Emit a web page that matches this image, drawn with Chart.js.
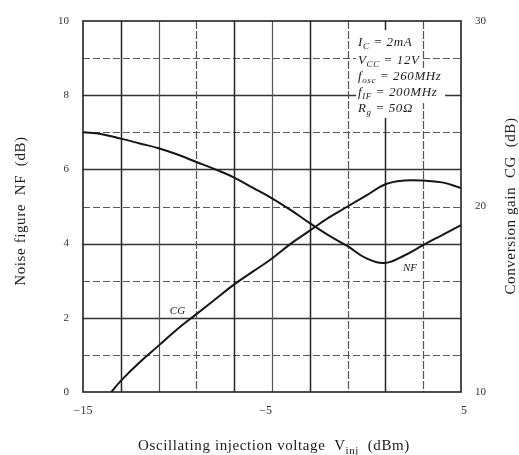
<!DOCTYPE html>
<html>
<head>
<meta charset="utf-8">
<script src="https://cdn.jsdelivr.net/npm/chart.js@4.4.1/dist/chart.umd.min.js"></script>
<style>
  html, body { margin: 0; padding: 0; background: #fff; }
  #wrap { width: 519px; height: 455px; position: relative; }
</style>
</head>
<body>
<div id="wrap"><canvas id="c"></canvas></div>
<script>
// Oscillating injection voltage (dBm) sample points
const injVoltage = [-15, -14, -13, -12, -11, -10, -9, -8, -7, -6, -5, -4, -3, -2, -1, 0, 1, 2, 3, 4, 5];
// Noise figure NF (dB)
const noiseFigure = [7.0, 6.95, 6.83, 6.7, 6.57, 6.4, 6.2, 6.0, 5.78, 5.5, 5.22, 4.9, 4.55, 4.22, 3.93, 3.6, 3.48, 3.68, 3.96, 4.23, 4.5];
// Conversion gain CG (dB), starting where it leaves the bottom of the grid
const cgVoltage = [-13.5, -13, -12, -11, -10, -9, -8, -7, -6, -5, -4, -3, -2, -1, 0, 1, 2, 3, 4, 5];
const conversionGain = [10, 10.6, 11.6, 12.5, 13.4, 14.2, 15.0, 15.8, 16.5, 17.2, 18.0, 18.7, 19.4, 20.0, 20.6, 21.2, 21.4, 21.4, 21.3, 21.0];

// Tick labels
const xTickLabels = { '-15': '\u221215', '-5': '\u22125', '5': '5' };
const nfTickLabels = [0, 2, 4, 6, 8, 10];
const cgTickLabels = [10, 20, 30];

// Operating conditions box
const conditions = [
  [{ t: 'I' }, { t: 'C', sub: true }, { t: ' = 2mA' }],
  [{ t: 'V' }, { t: 'CC', sub: true }, { t: ' = 12V' }],
  [{ t: 'f' }, { t: 'osc', sub: true }, { t: ' = 260MHz' }],
  [{ t: 'f' }, { t: 'IF', sub: true }, { t: ' = 200MHz' }],
  [{ t: 'R' }, { t: 'g', sub: true }, { t: ' = 50\u03A9' }]
];

const SERIF = '"Liberation Serif", "DejaVu Serif", serif';
const INK = '#1c1c1c';

function toPoints(xs, ys) { return xs.map((x, i) => ({ x: x, y: ys[i] })); }

function richWidth(ctx, parts, size, italic) {
  let w = 0;
  parts.forEach(p => {
    ctx.font = (italic ? 'italic ' : '') + (p.sub ? Math.round(size * 0.7) : size) + 'px ' + SERIF;
    w += ctx.measureText(p.t).width;
  });
  return w;
}
function drawRich(ctx, parts, x, y, size, italic) {
  let cx = x;
  parts.forEach(p => {
    const s = p.sub ? Math.round(size * 0.7) : size;
    ctx.font = (italic ? 'italic ' : '') + s + 'px ' + SERIF;
    ctx.fillText(p.t, cx, p.sub ? y + size * 0.25 : y);
    cx += ctx.measureText(p.t).width;
  });
}

// Grid of solid and dashed rulings, plus the frame
const paperGrid = {
  id: 'paperGrid',
  beforeDatasetsDraw(chart) {
    const { ctx, chartArea: a, scales } = chart;
    const xs = scales.x, ys = scales.y;
    ctx.save();
    // horizontal rulings
    for (let v = 1; v <= 9; v++) {
      const py = Math.round(ys.getPixelForValue(v)) + 0.5;
      ctx.beginPath();
      if (v % 2 === 1) { ctx.setLineDash([7, 3]); ctx.strokeStyle = '#5a5a5a'; ctx.lineWidth = 1.2; }
      else { ctx.setLineDash([]); ctx.strokeStyle = '#333'; ctx.lineWidth = 1.4; }
      ctx.moveTo(a.left, py); ctx.lineTo(a.right, py); ctx.stroke();
    }
    // vertical rulings
    const light = [-11, -9, -5, -1, 3];
    for (let v = -13; v <= 3; v += 2) {
      const px = Math.round(xs.getPixelForValue(v)) + 0.5;
      ctx.beginPath();
      if (light.includes(v)) { ctx.setLineDash(v === -1 || v === 3 || v === -9 ? [8, 2] : []); ctx.strokeStyle = '#555'; ctx.lineWidth = 1.2; }
      else { ctx.setLineDash([]); ctx.strokeStyle = '#262626'; ctx.lineWidth = 1.5; }
      ctx.moveTo(px, a.top); ctx.lineTo(px, a.bottom); ctx.stroke();
    }
    // frame
    ctx.setLineDash([]);
    ctx.strokeStyle = '#222';
    ctx.lineWidth = 1.6;
    ctx.strokeRect(a.left, a.top, a.right - a.left, a.bottom - a.top);
    ctx.restore();
  },
  afterDatasetsDraw(chart) {
    const { ctx, scales } = chart;
    const xs = scales.x, ys = scales.y;
    ctx.save();
    // conditions block sits on a white patch over the rulings
    ctx.fillStyle = '#fff';
    ctx.fillRect(356, 30, 66, 88);
    ctx.fillRect(422, 68, 32, 26);
    ctx.fillRect(422, 94, 23, 9);
    ctx.fillStyle = INK;
    ctx.textBaseline = 'alphabetic';
    ctx.textAlign = 'left';
    ctx.letterSpacing = '0.6px';
    const baselines = [46, 64, 80, 96, 112];
    conditions.forEach((parts, i) => drawRich(ctx, parts, 358, baselines[i], 13, true));
    ctx.letterSpacing = '0px';

    // curve names
    ctx.font = 'italic 11px ' + SERIF;
    ctx.textAlign = 'center';
    ctx.fillText('NF', xs.getPixelForValue(2.3), ys.getPixelForValue(3.25));
    ctx.fillText('CG', xs.getPixelForValue(-10.0), ys.getPixelForValue(2.1));
    ctx.restore();
  },
  afterDraw(chart) {
    const { ctx } = chart;
    ctx.save();
    ctx.fillStyle = INK;
    ctx.textBaseline = 'middle';
    ctx.textAlign = 'center';
    ctx.letterSpacing = '0.6px';
    ctx.font = '15px ' + SERIF;
    // left axis title
    ctx.save();
    ctx.translate(21, 211);
    ctx.rotate(-Math.PI / 2);
    ctx.fillText('Noise figure  NF  (dB)', 0, 0);
    ctx.restore();
    // right axis title
    ctx.save();
    ctx.translate(511, 206);
    ctx.rotate(-Math.PI / 2);
    ctx.fillText('Conversion gain  CG  (dB)', 0, 0);
    ctx.restore();
    // bottom axis title with subscript
    const parts = [{ t: 'Oscillating injection voltage  V' }, { t: 'inj', sub: true }, { t: '  (dBm)' }];
    const w = richWidth(ctx, parts, 15, false);
    ctx.textAlign = 'left';
    ctx.textBaseline = 'alphabetic';
    drawRich(ctx, parts, 274 - w / 2, 450, 15, false);
    ctx.restore();
  }
};

new Chart(document.getElementById('c'), {
  type: 'line',
  data: {
    datasets: [
      {
        label: 'NF',
        data: toPoints(injVoltage, noiseFigure),
        yAxisID: 'y',
        borderColor: '#151515',
        borderWidth: 2,
        pointRadius: 0,
        tension: 0.4,
        fill: false
      },
      {
        label: 'CG',
        data: toPoints(cgVoltage, conversionGain),
        yAxisID: 'y1',
        borderColor: '#151515',
        borderWidth: 2,
        pointRadius: 0,
        tension: 0.4,
        fill: false
      }
    ]
  },
  options: {
    responsive: true,
    maintainAspectRatio: false,
    animation: false,
    devicePixelRatio: 1,
    layout: { padding: { top: 21, left: 0, right: 0, bottom: 0 } },
    plugins: { legend: { display: false }, tooltip: { enabled: false } },
    scales: {
      x: {
        type: 'linear',
        min: -15, max: 5,
        grid: { display: false },
        border: { display: false },
        afterFit(s) { s.height = 63; },
        afterBuildTicks(s) { s.ticks = Object.keys(xTickLabels).map(v => ({ value: Number(v) })); },
        ticks: {
          align: 'inner',
          padding: 4,
          color: '#333',
          font: { family: SERIF, size: 12 },
          callback: v => xTickLabels[String(v)] || ''
        }
      },
      y: {
        position: 'left',
        min: 0, max: 10,
        grid: { display: false },
        border: { display: false },
        afterFit(s) { s.width = 83; },
        afterBuildTicks(s) { s.ticks = nfTickLabels.map(v => ({ value: v })); },
        ticks: {
          padding: 6,
          color: '#333',
          font: { family: SERIF, size: 11 }
        }
      },
      y1: {
        position: 'right',
        min: 10, max: 30,
        grid: { display: false },
        border: { display: false },
        afterFit(s) { s.width = 58; },
        afterBuildTicks(s) { s.ticks = cgTickLabels.map(v => ({ value: v })); },
        ticks: {
          padding: 6,
          color: '#333',
          font: { family: SERIF, size: 11 }
        }
      }
    }
  },
  plugins: [paperGrid]
});
</script>
</body>
</html>
